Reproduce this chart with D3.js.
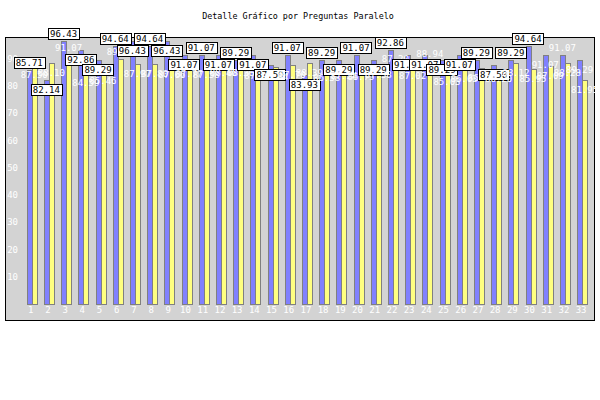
<!DOCTYPE html>
<html><head><meta charset="utf-8">
<script src="https://cdn.jsdelivr.net/npm/d3@7"></script>
<style>body{margin:0;background:#fff}svg{display:block}text{font-family:'DejaVu Sans Mono',monospace}</style>
</head><body><svg id="c" width="600" height="400"></svg>
<script>
const categories = ["1","2","3","4","5","6","7","8","9","10","11","12","13","14","15","16","17","18","19","20","21","22","23","24","25","26","27","28","29","30","31","32","33"];
const seriesBlue = [85.71,82.14,96.43,92.86,89.29,94.64,96.43,94.64,96.43,91.07,91.07,91.07,89.29,91.07,87.50,91.07,83.93,89.29,89.29,91.07,89.29,92.86,91.07,91.07,89.29,91.07,89.29,87.50,89.29,94.64,91.07,91.07,89.29];
const seriesYellow = [87.50,88.10,91.07,84.59,85.46,89.89,87.97,87.80,87.66,87.77,87.58,88.46,88.36,87.31,86.84,87.70,88.39,86.38,87.24,86.75,87.38,87.20,87.02,88.94,85.03,86.03,86.53,86.20,88.12,85.95,87.09,88.28,81.95];
const yTicks = [10,20,30,40,50,60,70,80,90];
const title = "Detalle Gráfico por Preguntas Paralelo";

const svg = d3.select("#c");
svg.append("rect").attr("x",5.5).attr("y",37.5).attr("width",589).attr("height",283)
  .attr("fill","#d3d3d3").attr("stroke","#000").attr("stroke-width",1);
svg.append("text").attr("x",298).attr("y",19).attr("text-anchor","middle")
  .attr("font-size","8.4px").attr("fill","#000").text(title);

const x = d3.scaleBand().domain(categories).range([23.1,590.7]).paddingInner(0.42).paddingOuter(0.21);
const xs = d3.scaleBand().domain(["b","y"]).range([0,x.bandwidth()]);
const y = d3.scaleLinear().domain([0,100]).range([304,31]);

const yAxis = d3.axisLeft(y).tickValues(yTicks).tickSize(0).tickPadding(0);
const ga = svg.append("g").attr("transform","translate(18,0)").call(yAxis);
ga.select(".domain").remove();
ga.selectAll("text").attr("fill","#fff").attr("font-size","9px").attr("font-family","'DejaVu Sans Mono',monospace");
const xAxis = d3.axisBottom(x).tickSize(0).tickPadding(0);
const gx = svg.append("g").attr("transform","translate(-1,307)").call(xAxis);
gx.select(".domain").remove();
gx.selectAll("text").attr("fill","#fff").attr("font-size","9px").attr("font-family","'DejaVu Sans Mono',monospace");

const data = categories.map((c,i)=>({c, b:seriesBlue[i], yv:seriesYellow[i]}));
const g = svg.append("g");
const base = Math.round(y(0))+0.5;
data.forEach(d=>{
  const bx = Math.round(x(d.c)+xs("b"))+0.5, yx = Math.round(x(d.c)+xs("y"))+0.5;
  const bw = Math.round(xs.bandwidth());
  const bt = Math.round(y(d.b))+0.5, yt = Math.round(y(d.yv))+0.5;
  g.append("rect").attr("x",bx).attr("y",bt).attr("width",bw).attr("height",base-bt)
    .attr("fill","#8080ff").attr("stroke","#808080").attr("stroke-width",1);
  g.append("rect").attr("x",yx).attr("y",yt).attr("width",bw).attr("height",base-yt)
    .attr("fill","#ffff80").attr("stroke","#808080").attr("stroke-width",1);
});

const placed = [];
const lab = svg.append("g");
function overlaps(a){return placed.some(p=>a.x0<p.x1&&a.x1>p.x0&&a.y0<p.y1&&a.y1>p.y0);}
data.forEach((d,i)=>{
  [["b",d.b,i<30],["y",d.yv,false]].forEach(([k,v,boxed])=>{
    const t = v.toFixed(2);
    const w = t.length*5.42+4, h = 11;
    const cx = x(d.c)+xs(k)+xs.bandwidth()/2;
    const top = y(v);
    let r = {x0:cx-w/2,x1:cx+w/2,y0:top-2-h,y1:top-2};
    if(overlaps(r)) r = {x0:cx-w/2,x1:cx+w/2,y0:top+4,y1:top+4+h};
    placed.push(r);
    if(boxed){
      lab.append("rect").attr("x",Math.round(r.x0)+0.5).attr("y",Math.round(r.y0)+0.5).attr("width",Math.round(w)).attr("height",h)
        .attr("fill","#fff").attr("stroke","#000").attr("stroke-width",1);
    }
    lab.append("text").attr("x",cx).attr("y",Math.round(r.y0)+9).attr("text-anchor","middle")
      .attr("font-size","9px").attr("fill",boxed?"#000":"#fff").text(t);
  });
});
</script></body></html>
